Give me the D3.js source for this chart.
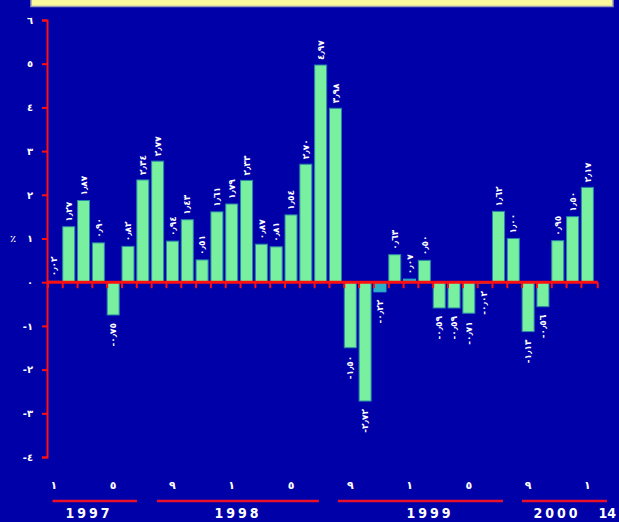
<!DOCTYPE html>
<html>
<head>
<meta charset="utf-8">
<script src="https://cdn.jsdelivr.net/npm/d3@7"></script>
<style>
  html, body { margin: 0; padding: 0; background: #0000a8; overflow: hidden; }
  svg { display: block; }
</style>
</head>
<body>
<svg id="chart" width="619" height="522"></svg>
<script>
// Monthly change (%) — January 1997 onward
const monthNums = [1,2,3,4,5,6,7,8,9,10,11,12,
                   1,2,3,4,5,6,7,8,9,10,11,12,
                   1,2,3,4,5,6,7,8,9,10,11,12,
                   1];
const values = [0.02, 1.27, 1.87, 0.90, -0.75, 0.82, 2.34, 2.77, 0.94, 1.43, 0.51, 1.61,
                1.79, 2.33, 0.87, 0.81, 1.54, 2.70, 4.97, 3.98, -1.50, -2.72, -0.22, 0.63,
                0.07, 0.50, -0.59, -0.59, -0.71, -0.02, 1.62, 1.00, -1.13, -0.56, 0.95, 1.50,
                2.17];
const yTicks = [-4, -3, -2, -1, 0, 1, 2, 3, 4, 5, 6];
const monthTickIdx = [0, 4, 8, 12, 16, 20, 24, 28, 32, 36];
const yearNames = ["1997", "1998", "1999", "2000"];
const yearFrom = [0.31, 7.36, 19.57, 31.99];
const yearTo = [6.01, 18.29, 30.71, 37.73];
const yearLabelPos = [2.77, 12.83, 25.78, 34.35];

const arDigits = "٠١٢٣٤٥٦٧٨٩";
function toArabic(str) {
  return String(str).replace(/[0-9]/g, d => arDigits[+d]).replace(".", "٫");
}
function fmtValue(v) {
  return (v < 0 ? "-" : "") + toArabic(Math.abs(v).toFixed(2));
}

const svg = d3.select("#chart");
const W = 619, H = 522;
svg.append("rect").attr("width", W).attr("height", H).attr("fill", "#0000a8");

// header box
svg.append("rect")
  .attr("x", 31).attr("y", -10).attr("width", 582).attr("height", 16.5)
  .attr("fill", "#fbf99c").attr("stroke", "#9a9ab8").attr("stroke-width", 1.5);

const idx = d3.range(values.length);
const x = d3.scaleBand().domain(idx).range([47.9, 593.4]).paddingInner(0.19).paddingOuter(0);
const step = x.step();
const pos = d3.scaleLinear().domain([0, 1]).range([47.9, 47.9 + step]);
const y = d3.scaleLinear().domain([-4, 6]).range([457, 20]);

const red = "#ff1010";
const green = "#78f0a0";
const teal = "#2cb0c8";

// y axis
const yAxis = d3.axisLeft(y).tickValues(yTicks).tickSize(5).tickSizeOuter(5).tickPadding(9)
  .tickFormat(d => (d < 0 ? "-" : "") + toArabic(Math.abs(d)));
const gy = svg.append("g").attr("transform", "translate(47,0)").call(yAxis);
gy.select(".domain").attr("stroke", red).attr("stroke-width", 2);
gy.selectAll(".tick line").attr("stroke", red).attr("stroke-width", 2);
gy.selectAll(".tick text").attr("fill", "#fff")
  .attr("font-family", "DejaVu Sans").attr("font-weight", "bold").attr("font-size", 10);

// unit
svg.append("text").attr("x", 13).attr("y", 242).attr("text-anchor", "middle")
  .attr("fill", "#fff").attr("font-family", "DejaVu Sans").attr("font-weight", "bold")
  .attr("font-size", 10).text("٪");

// bars
svg.append("g").selectAll("rect").data(idx).join("rect")
  .attr("x", i => x(i))
  .attr("width", x.bandwidth())
  .attr("y", i => y(Math.max(0, values[i])))
  .attr("height", i => Math.abs(y(values[i]) - y(0)))
  .attr("fill", i => Math.abs(values[i]) < 0.3 ? teal : green)
  .attr("stroke", i => Math.abs(values[i]) < 0.3 ? teal : "#2a86a8")
  .attr("stroke-width", 1);

// zero line with ticks
const y0 = y(0);
svg.append("line").attr("x1", 47).attr("x2", pos(values.length) + 1.5)
  .attr("y1", y0).attr("y2", y0).attr("stroke", red).attr("stroke-width", 3);
svg.append("g").selectAll("line").data(d3.range(values.length + 1)).join("line")
  .attr("x1", k => pos(k) + (k === values.length ? 1.5 : 0))
  .attr("x2", k => pos(k) + (k === values.length ? 1.5 : 0))
  .attr("y1", y0).attr("y2", y0 + 6)
  .attr("stroke", red).attr("stroke-width", 2);

// value labels
svg.append("g").selectAll("text").data(idx).join("text")
  .attr("transform", i => {
    const cx = x(i) + x.bandwidth() / 2;
    const v = values[i];
    const ty = v >= 0 ? y(v) - 5 : y(v) + 8;
    return `translate(${cx},${ty}) rotate(-90)`;
  })
  .attr("text-anchor", i => values[i] >= 0 ? "start" : "end")
  .attr("dy", "0.35em")
  .attr("fill", "#fff").attr("font-family", "DejaVu Sans").attr("font-weight", "bold")
  .attr("font-size", 9)
  .text(i => fmtValue(values[i]));

// month labels
svg.append("g").selectAll("text").data(monthTickIdx).join("text")
  .attr("x", i => x(i) + x.bandwidth() / 2)
  .attr("y", 489)
  .attr("text-anchor", "middle")
  .attr("fill", "#fff").attr("font-family", "DejaVu Sans").attr("font-weight", "bold")
  .attr("font-size", 11)
  .text(i => toArabic(monthNums[i]));

// year spans
svg.append("g").selectAll("line").data(yearNames).join("line")
  .attr("x1", (d, k) => pos(yearFrom[k]))
  .attr("x2", (d, k) => pos(yearTo[k]))
  .attr("y1", 501).attr("y2", 501)
  .attr("stroke", "#e8102a").attr("stroke-width", 2.5);
svg.append("g").selectAll("text").data(yearNames).join("text")
  .attr("x", (d, k) => pos(yearLabelPos[k]))
  .attr("y", 518)
  .attr("text-anchor", "middle")
  .attr("fill", "#fff").attr("font-family", "Liberation Sans Narrow, DejaVu Sans Condensed")
  .attr("font-weight", "bold").attr("font-size", 14).attr("letter-spacing", 3)
  .text(d => d);
svg.append("text").attr("x", 616).attr("y", 518)
  .attr("text-anchor", "end")
  .attr("fill", "#fff").attr("font-family", "Liberation Sans Narrow, DejaVu Sans Condensed")
  .attr("font-weight", "bold").attr("font-size", 14)
  .text("14");
</script>
</body>
</html>
